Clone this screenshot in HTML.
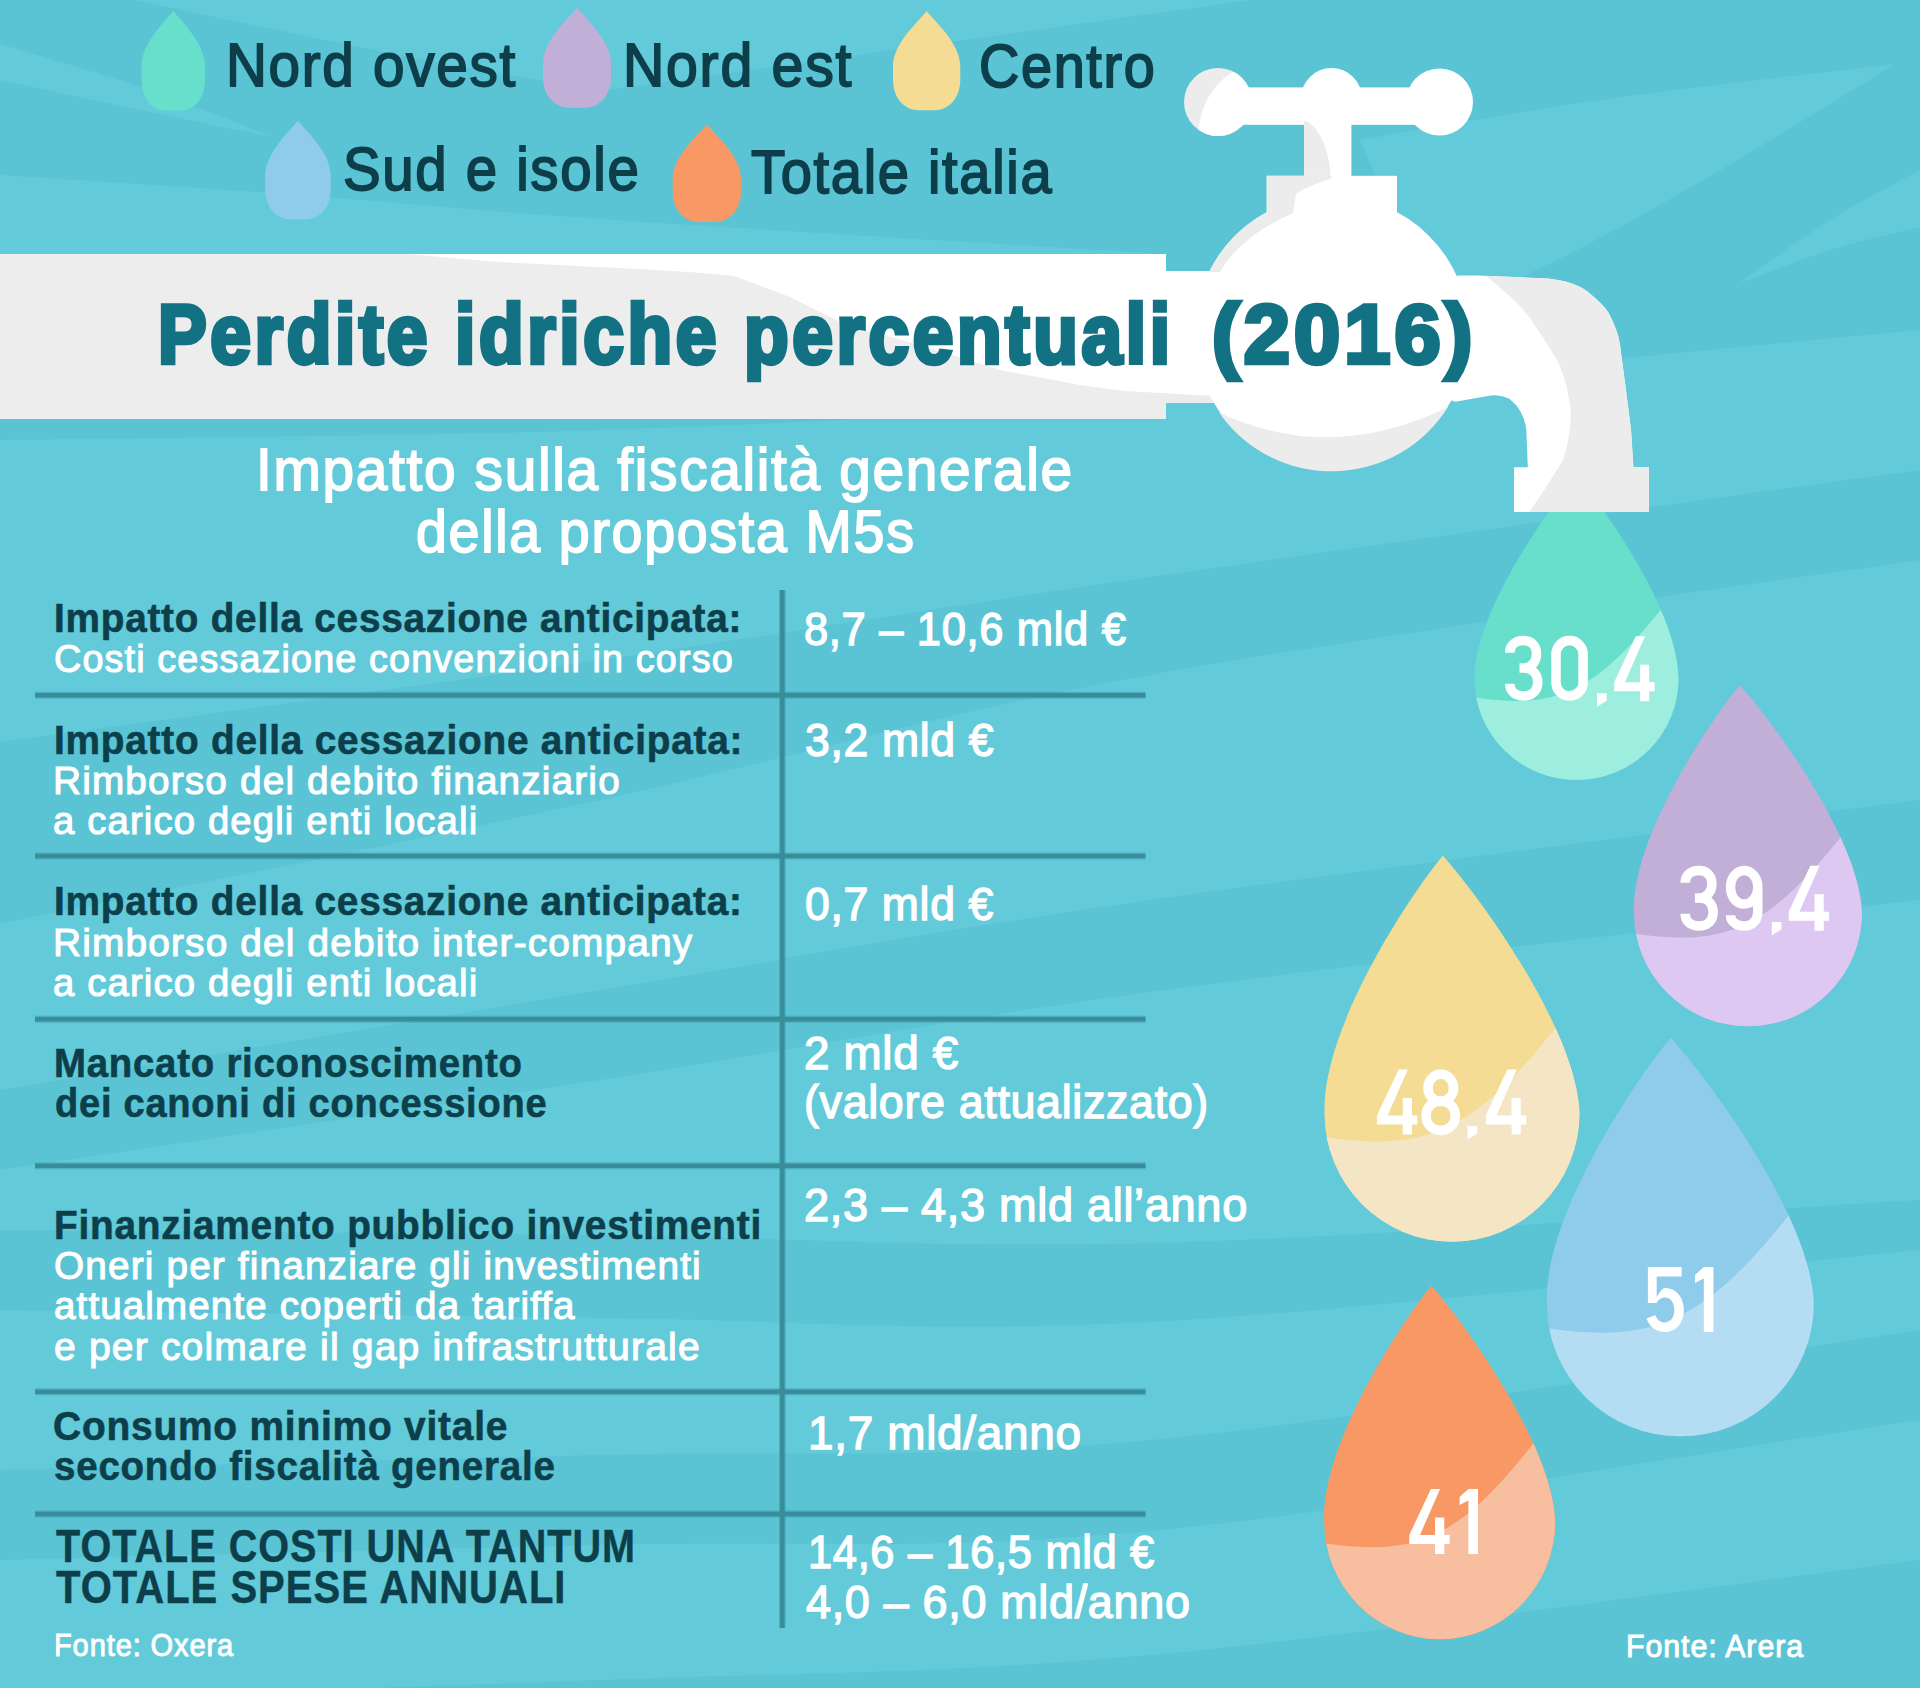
<!DOCTYPE html>
<html><head><meta charset="utf-8"><style>
html,body{margin:0;padding:0}
body{width:1920px;height:1688px;position:relative;overflow:hidden;background:#5ac4d5;font-family:"Liberation Sans",sans-serif}
svg{position:absolute;left:0;top:0}
.t{position:absolute;white-space:nowrap;transform-origin:0 0}
</style></head><body>
<svg width="1920" height="1688" viewBox="0 0 1920 1688">
<defs><clipPath id="dc0"><path d="M1576.48 476 C1598.92 500.93 1678.49 609.76 1678.5 678.67 A102 101.33 0 0 1 1474.5 678.67 C1474.49 609.76 1554.04 500.93 1576.48 476 Z"/></clipPath><clipPath id="dc1"><path d="M1739.79 685.3 C1765.88 713.26 1859.21 835.34 1862 912.63 A114 113.67 0 0 1 1634 912.63 C1631.21 835.34 1715.72 713.26 1739.79 685.3 Z"/></clipPath><clipPath id="dc2"><path d="M1442.82 855.8 C1472 887.45 1576.38 1025.64 1579.5 1113.13 A127.5 128.67 0 0 1 1324.5 1113.13 C1321.38 1025.64 1415.9 887.45 1442.82 855.8 Z"/></clipPath><clipPath id="dc3"><path d="M1670.69 1037.8 C1701.24 1070.48 1810.53 1213.14 1813.8 1303.47 A133.5 132.83 0 0 1 1546.8 1303.47 C1543.53 1213.14 1642.5 1070.48 1670.69 1037.8 Z"/></clipPath><clipPath id="dc4"><path d="M1431.38 1285.8 C1457.82 1314.78 1552.37 1441.3 1555.2 1521.4 A115.5 117.8 0 0 1 1324.2 1521.4 C1321.37 1441.3 1407 1314.78 1431.38 1285.8 Z"/></clipPath></defs>
<path d="M0 440 C100 438.33 408.33 436.67 600 430 C791.67 423.33 930 416.67 1150 400 C1370 383.33 1791.67 341.67 1920 330 L1920 470 C1791.67 487.83 1370 545.33 1150 577 C930 608.67 791.67 632.5 600 660 C408.33 687.5 100 728.33 0 742 Z" fill="#63cad9"/>
<path d="M0 924 C100 903.33 408.33 841.5 600 800 C791.67 758.5 930 715 1150 675 C1370 635 1791.67 579.17 1920 560 L1920 800 C1791.67 816.67 1370 868.33 1150 900 C930 931.67 791.67 958.33 600 990 C408.33 1021.67 100 1073.33 0 1090 Z" fill="#63cad9"/>
<path d="M0 1170 C100 1155 408.33 1109.67 600 1080 C791.67 1050.33 930 1022 1150 992 C1370 962 1791.67 915.33 1920 900 L1920 1200 C1791.67 1207.17 1370 1237.17 1150 1243 C930 1248.83 791.67 1237.17 600 1235 C408.33 1232.83 100 1230.83 0 1230 Z" fill="#63cad9"/>
<path d="M0 1310 C100 1311.33 408.33 1316 600 1318 C791.67 1320 930 1333.33 1150 1322 C1370 1310.67 1791.67 1262 1920 1250 L1920 1330 C1791.67 1348.33 1370 1419.17 1150 1440 C930 1460.83 791.67 1450 600 1455 C408.33 1460 100 1467.5 0 1470 Z" fill="#63cad9"/>
<path d="M0 1560 C100 1557.5 408.33 1549.83 600 1545 C791.67 1540.17 930 1551.83 1150 1531 C1370 1510.17 1791.67 1438.5 1920 1420 L1920 1560 C1791.67 1575.83 1370 1635 1150 1655 C930 1675 791.67 1672.5 600 1680 C408.33 1687.5 100 1696.67 0 1700 Z" fill="#63cad9"/>
<path d="M134 0 C178.33 9.17 322.33 39.83 400 55 C477.67 70.17 566.67 85 600 91 L1250 0 C1208.33 0 1091.67 0 1000 0 C908.33 0 844.33 0 700 0 C555.67 0 228.33 0 134 0 Z" fill="#63cad9"/>
<path d="M0 44 C25 51.67 104.67 74.5 150 90 C195.33 105.5 251.67 129.17 272 137 L272 137 C251.67 132.83 195.33 121.5 150 112 C104.67 102.5 25 85.33 0 80 Z" fill="#63cad9"/>
<path d="M0 175 C50 178.33 200 187.67 300 195 C400 202.33 455.67 209.17 600 219 C744.33 228.83 1071.67 248.17 1166 254 L1166 256 C1071.67 256 794.33 256 600 256 C405.67 256 100 256 0 256 Z" fill="#63cad9"/>
<path d="M1360 140 C1400 133.33 1510.83 112.67 1600 100 C1689.17 87.33 1845.83 70 1895 64 L1895 64 C1862.5 83.67 1759.17 148 1700 182 C1640.83 216 1583.33 248.33 1540 268 C1496.67 287.67 1470 321.33 1440 300 C1410 278.67 1373.33 166.67 1360 140 Z" fill="#63cad9"/>
<path d="M1738 284 C1753.33 273.33 1799.67 239 1830 220 C1860.33 201 1905 178.33 1920 170 L1920 227 C1905 230.83 1860.33 240.5 1830 250 C1799.67 259.5 1753.33 278.33 1738 284 Z" fill="#63cad9"/>
<path d="M173.25 10.6 C179.6 20.12 205 42.35 205 66.47 L205 79.17 C205 100.76 192.3 110.6 180.87 110.6 L165.63 110.6 C154.2 110.6 141.5 100.76 141.5 79.17 L141.5 66.47 C141.5 42.35 166.9 20.12 173.25 10.6 Z" fill="#67dfcb"/>
<path d="M577 7.8 C583.8 17.32 611 39.55 611 63.67 L611 76.37 C611 97.96 597.4 107.8 585.16 107.8 L568.84 107.8 C556.6 107.8 543 97.96 543 76.37 L543 63.67 C543 39.55 570.2 17.32 577 7.8 Z" fill="#c2afd7"/>
<path d="M926.65 10.9 C933.38 20.37 960.3 42.46 960.3 66.44 L960.3 79.06 C960.3 100.52 946.84 110.3 934.73 110.3 L918.57 110.3 C906.46 110.3 893 100.52 893 79.06 L893 66.44 C893 42.46 919.92 20.37 926.65 10.9 Z" fill="#f4dc94"/>
<path d="M298 120.4 C304.56 129.83 330.8 151.83 330.8 175.71 L330.8 188.29 C330.8 209.66 317.68 219.4 305.87 219.4 L290.13 219.4 C278.32 219.4 265.2 209.66 265.2 188.29 L265.2 175.71 C265.2 151.83 291.44 129.83 298 120.4 Z" fill="#8fcbea"/>
<path d="M706.85 124.2 C713.68 133.51 741 155.25 741 178.84 L741 191.26 C741 212.38 727.34 222 715.05 222 L698.65 222 C686.36 222 672.7 212.38 672.7 191.26 L672.7 178.84 C672.7 155.25 700.02 133.51 706.85 124.2 Z" fill="#f89865"/>
<rect x="35" y="691.7" width="1110.5" height="7" fill="#3a8e9b" opacity="0.45"/>
<rect x="35" y="693" width="1110.5" height="4.4" fill="#388d9a"/>
<rect x="35" y="852.5" width="1110.5" height="7" fill="#3a8e9b" opacity="0.45"/>
<rect x="35" y="853.8" width="1110.5" height="4.4" fill="#388d9a"/>
<rect x="35" y="1015.7" width="1110.5" height="7" fill="#3a8e9b" opacity="0.45"/>
<rect x="35" y="1017" width="1110.5" height="4.4" fill="#388d9a"/>
<rect x="35" y="1162.3" width="1110.5" height="7" fill="#3a8e9b" opacity="0.45"/>
<rect x="35" y="1163.6" width="1110.5" height="4.4" fill="#388d9a"/>
<rect x="35" y="1388.3" width="1110.5" height="7" fill="#3a8e9b" opacity="0.45"/>
<rect x="35" y="1389.6" width="1110.5" height="4.4" fill="#388d9a"/>
<rect x="35" y="1510.5" width="1110.5" height="7" fill="#3a8e9b" opacity="0.45"/>
<rect x="35" y="1511.8" width="1110.5" height="4.4" fill="#388d9a"/>
<rect x="779" y="590" width="6.6" height="1038" fill="#3a8e9b" opacity="0.45"/>
<rect x="780.1" y="590" width="4.4" height="1038" fill="#388d9a"/>
<path d="M1576.48 476 C1598.92 500.93 1678.49 609.76 1678.5 678.67 A102 101.33 0 0 1 1474.5 678.67 C1474.49 609.76 1554.04 500.93 1576.48 476 Z" fill="#67dfcb"/>
<path d="M1470.42 696.91 C1558.14 710.08 1595.27 694.47 1670.34 597.6 L1719.3 597.6 L1719.3 820.53 L1433.7 820.53 Z" fill="#9eeee0" clip-path="url(#dc0)"/>
<path d="M1739.79 685.3 C1765.88 713.26 1859.21 835.34 1862 912.63 A114 113.67 0 0 1 1634 912.63 C1631.21 835.34 1715.72 713.26 1739.79 685.3 Z" fill="#c2afd7"/>
<path d="M1629.44 933.09 C1727.48 947.87 1768.98 930.37 1852.88 821.7 L1907.6 821.7 L1907.6 1071.77 L1588.4 1071.77 Z" fill="#dcc8f1" clip-path="url(#dc1)"/>
<path d="M1442.82 855.8 C1472 887.45 1576.38 1025.64 1579.5 1113.13 A127.5 128.67 0 0 1 1324.5 1113.13 C1321.38 1025.64 1415.9 887.45 1442.82 855.8 Z" fill="#f4dc94"/>
<path d="M1319.4 1136.29 C1429.05 1153.02 1475.46 1133.21 1569.3 1010.2 L1630.5 1010.2 L1630.5 1293.27 L1273.5 1293.27 Z" fill="#f4e5c4" clip-path="url(#dc2)"/>
<path d="M1670.69 1037.8 C1701.24 1070.48 1810.53 1213.14 1813.8 1303.47 A133.5 132.83 0 0 1 1546.8 1303.47 C1543.53 1213.14 1642.5 1070.48 1670.69 1037.8 Z" fill="#8fcbea"/>
<path d="M1541.46 1327.38 C1656.27 1344.64 1704.86 1324.19 1803.12 1197.2 L1867.2 1197.2 L1867.2 1489.43 L1493.4 1489.43 Z" fill="#b4dcf2" clip-path="url(#dc3)"/>
<path d="M1431.38 1285.8 C1457.82 1314.78 1552.37 1441.3 1555.2 1521.4 A115.5 117.8 0 0 1 1324.2 1521.4 C1321.37 1441.3 1407 1314.78 1431.38 1285.8 Z" fill="#f89865"/>
<path d="M1319.58 1542.6 C1418.91 1557.92 1460.95 1539.78 1545.96 1427.16 L1601.4 1427.16 L1601.4 1686.32 L1278 1686.32 Z" fill="#f8bea0" clip-path="url(#dc4)"/>
<rect x="0" y="254" width="1166" height="165" fill="#ededed"/>
<rect x="1160" y="271" width="60" height="132" fill="#ececec"/>
<polygon points="407,254 498,262 638,269 696,272.5 734,276 790,297 846,325 902,340 959,357 1000,370 1080,385 1125,391 1215,396 1215,271 1166,271 1166,254" fill="#ffffff"/>
<circle cx="1332" cy="333" r="137.3" fill="#ffffff"/>
<path d="M1219 412.5 A137.3 137.3 0 0 0 1448 407 Q1331 464.5 1219 412.5 Z" fill="#ececec"/>
<circle cx="1218" cy="102" r="34" fill="#ececec"/>
<clipPath id="hc"><circle cx="1218" cy="102" r="34"/></clipPath>
<circle cx="1273" cy="134.5" r="74.5" fill="#ffffff" clip-path="url(#hc)"/>
<circle cx="1331.5" cy="98.5" r="30.5" fill="#ffffff"/>
<circle cx="1439.5" cy="102" r="33.5" fill="#ffffff"/>
<rect x="1218" y="87.4" width="221" height="37.4" fill="#ffffff"/>
<rect x="1304" y="124" width="47.4" height="52" fill="#ffffff"/>
<path d="M1304 121 L1307 121 Q1328 135 1331 178.5 L1304 178.5 Z" fill="#ececec"/>
<rect x="1266.7" y="175.8" width="130.3" height="37.4" fill="#ffffff"/>
<path d="M1266.7 175.8 L1332 175.8 L1331 178.5 Q1305 187 1296 194 L1293 213.5 Q1262 226 1242 245 Q1228 258 1220 272 L1209 272 A137.3 137.3 0 0 1 1264.4 213.5 L1266.7 213.5 Z" fill="#ececec"/>
<path d="M1420 300 L1458 275.5 L1477 275.4 L1548 278.5 Q1575 282 1586.4 290.8 Q1603 304 1608 312 Q1618 330 1620 345 L1625 383 L1631 429.5 L1633.4 467.2 L1648.8 467.2 L1648.8 512 L1514 512 L1514 467.2 L1527.8 467.2 L1526.3 429.5 Q1524 410 1509.3 398.7 Q1500 394 1490.8 395.6 L1455.4 401.8 L1420 390 Z" fill="#ffffff"/>
<clipPath id="sc"><path d="M1420 300 L1458 275.5 L1477 275.4 L1548 278.5 Q1575 282 1586.4 290.8 Q1603 304 1608 312 Q1618 330 1620 345 L1625 383 L1631 429.5 L1633.4 467.2 L1648.8 467.2 L1648.8 512 L1514 512 L1514 467.2 L1527.8 467.2 L1526.3 429.5 Q1524 410 1509.3 398.7 Q1500 394 1490.8 395.6 L1455.4 401.8 L1420 390 Z"/></clipPath>
<path d="M1478.5 270 Q1517 300 1530 318 Q1548 344.7 1558 362 Q1568 383 1571 414 Q1570 440 1563 460 Q1545 490 1529 512 L1700 512 L1700 270 Z" fill="#ececec" clip-path="url(#sc)"/><path transform="translate(1505 635.8)" d="M4.75 17 C4.75 9.5 10.5 4.75 18.5 4.75 C27 4.75 31.5 10.5 31.5 18 C31.5 26 26.5 32.3 18.5 32.3 L14.5 32.3 M18.5 32.3 C27.5 32.3 32.75 38.5 32.75 46.5 C32.75 55 27 60.25 18.5 60.25 C10.5 60.25 4.75 55.5 4.75 48" fill="none" stroke="#fff" stroke-width="9.5"/>
<path transform="translate(1551.25 635.8)" d="M4.75 18.3 A13.55 13.55 0 0 1 31.85 18.3 V46.7 A13.55 13.55 0 0 1 4.75 46.7 Z" fill="none" stroke="#fff" stroke-width="9.5"/>
<path transform="translate(1597 635.8)" d="M0 57.5 H9.7 V65 L0 71 Z" fill="#fff"/>
<path transform="translate(1614.2 636.25)" d="M21.6 0 H30.8 L10.7 45.9 H25.8 V28.4 H35 V45.9 H40.4 V55 H35 V65 H25.8 V55 H0 V46 Z" fill="#fff"/>
<path transform="translate(1680.4 865.8)" d="M4.75 17 C4.75 9.5 10.5 4.75 18.5 4.75 C27 4.75 31.5 10.5 31.5 18 C31.5 26 26.5 32.3 18.5 32.3 L14.5 32.3 M18.5 32.3 C27.5 32.3 32.75 38.5 32.75 46.5 C32.75 55 27 60.25 18.5 60.25 C10.5 60.25 4.75 55.5 4.75 48" fill="none" stroke="#fff" stroke-width="9.5"/>
<path transform="translate(1725.8 865.8)" d="M31.95 21.5 C31.95 12 26 4.75 18.35 4.75 C10.5 4.75 4.75 12 4.75 21.5 C4.75 31 10.5 38.2 18.35 38.2 C26 38.2 31.95 31 31.95 21.5 L31.95 46.5 C31.95 55 26 60.25 18.35 60.25 C10.5 60.25 4.75 56 4.75 49.5" fill="none" stroke="#fff" stroke-width="9.5"/>
<path transform="translate(1771.7 864.5)" d="M0 57.5 H9.7 V65 L0 71 Z" fill="#fff"/>
<path transform="translate(1788.75 865.8)" d="M21.6 0 H30.8 L10.7 45.9 H25.8 V28.4 H35 V45.9 H40.4 V55 H35 V65 H25.8 V55 H0 V46 Z" fill="#fff"/>
<path transform="translate(1377 1069.6)" d="M21.6 0 H30.8 L10.7 45.9 H25.8 V28.4 H35 V45.9 H40.4 V55 H35 V65 H25.8 V55 H0 V46 Z" fill="#fff"/>
<path transform="translate(1421.25 1069.6)" d="M19.5 4.75 C26.5 4.75 32.3 10.5 32.3 18.3 C32.3 26 26.5 31.85 19.5 31.85 C12.5 31.85 6.8 26 6.8 18.3 C6.8 10.5 12.5 4.75 19.5 4.75 Z M19.4 31.45 C27.5 31.45 34.05 37.5 34.05 46.2 C34.05 55 27.5 60.95 19.4 60.95 C11.3 60.95 4.75 55 4.75 46.2 C4.75 37.5 11.3 31.45 19.4 31.45 Z" fill="none" stroke="#fff" stroke-width="9.5"/>
<path transform="translate(1467.5 1068.5)" d="M0 57.5 H9.7 V65 L0 71 Z" fill="#fff"/>
<path transform="translate(1485.8 1069.6)" d="M21.6 0 H30.8 L10.7 45.9 H25.8 V28.4 H35 V45.9 H40.4 V55 H35 V65 H25.8 V55 H0 V46 Z" fill="#fff"/>
<path transform="translate(1646.5 1267)" d="M1.4 0 H35.2 V9.5 H10.2 V30 C12.5 27 15.5 21 18.5 21 C29.5 21 37.3 30 37.3 43 C37.3 57 29 65 18.5 65 C10 65 3 60 0 51.5 L8.8 48 C10.5 53 14 55.5 18.5 55.5 C23.5 55.5 27.8 51 27.8 43 C27.8 35 23.5 30.5 18.5 30.5 C14.5 30.5 11.5 33 9.9 36 L1.4 36 Z" fill="#fff"/>
<path transform="translate(1695 1267)" d="M8.8 0 H18.4 V65 H8.8 V11.5 L0 16 V8 Z" fill="#fff"/>
<path transform="translate(1409.3 1489)" d="M21.6 0 H30.8 L10.7 45.9 H25.8 V28.4 H35 V45.9 H40.4 V55 H35 V65 H25.8 V55 H0 V46 Z" fill="#fff"/>
<path transform="translate(1459.6 1489)" d="M8.8 0 H18.4 V65 H8.8 V11.5 L0 16 V8 Z" fill="#fff"/>
</svg>
<div class="t" style="left:226.32px;top:34.23px;font-size:61.36px;line-height:61.36px;font-weight:normal;color:#0d3e4a;transform:scaleX(0.9230);letter-spacing:1.84px;-webkit-text-stroke:1.84px #0d3e4a">Nord ovest</div>
<div class="t" style="left:622.88px;top:34.43px;font-size:61.36px;line-height:61.36px;font-weight:normal;color:#0d3e4a;transform:scaleX(0.9330);letter-spacing:1.84px;-webkit-text-stroke:1.84px #0d3e4a">Nord est</div>
<div class="t" style="left:978.65px;top:34.73px;font-size:61.36px;line-height:61.36px;font-weight:normal;color:#0d3e4a;transform:scaleX(0.9093);letter-spacing:1.84px;-webkit-text-stroke:1.84px #0d3e4a">Centro</div>
<div class="t" style="left:342.71px;top:138.03px;font-size:61.36px;line-height:61.36px;font-weight:normal;color:#0d3e4a;transform:scaleX(0.9188);letter-spacing:1.84px;-webkit-text-stroke:1.84px #0d3e4a">Sud e isole</div>
<div class="t" style="left:751.44px;top:141.43px;font-size:61.36px;line-height:61.36px;font-weight:normal;color:#0d3e4a;transform:scaleX(0.9134);letter-spacing:1.84px;-webkit-text-stroke:1.84px #0d3e4a">Totale italia</div>
<div class="t" style="left:158.08px;top:292.78px;font-size:83.01px;line-height:83.01px;font-weight:bold;color:#127182;transform:scaleX(0.8798);letter-spacing:4.15px;-webkit-text-stroke:4.57px #127182">Perdite idriche percentuali</div>
<div class="t" style="left:1211.64px;top:292.78px;font-size:83.01px;line-height:83.01px;font-weight:bold;color:#127182;transform:scaleX(0.9988);letter-spacing:4.15px;-webkit-text-stroke:4.57px #127182">(2016)</div>
<div class="t" style="left:255.94px;top:439.6px;font-size:60.06px;line-height:60.06px;font-weight:normal;color:#ffffff;transform:scaleX(0.9450);letter-spacing:1.8px;-webkit-text-stroke:1.8px #ffffff">Impatto sulla fiscalità generale</div>
<div class="t" style="left:415.81px;top:502.1px;font-size:60.06px;line-height:60.06px;font-weight:normal;color:#ffffff;transform:scaleX(0.9256);letter-spacing:1.8px;-webkit-text-stroke:1.8px #ffffff">della proposta M5s</div>
<div class="t" style="left:53.68px;top:597.94px;font-size:41.36px;line-height:41.36px;font-weight:bold;color:#0d3f4b;transform:scaleX(0.9357);letter-spacing:0.83px;-webkit-text-stroke:0.62px #0d3f4b">Impatto della cessazione anticipata:</div>
<div class="t" style="left:54.08px;top:639.42px;font-size:39.17px;line-height:39.17px;font-weight:normal;color:#ffffff;transform:scaleX(0.9643);letter-spacing:1.17px;-webkit-text-stroke:1.1px #ffffff">Costi cessazione convenzioni in corso</div>
<div class="t" style="left:53.67px;top:720.04px;font-size:41.36px;line-height:41.36px;font-weight:bold;color:#0d3f4b;transform:scaleX(0.9371);letter-spacing:0.83px;-webkit-text-stroke:0.62px #0d3f4b">Impatto della cessazione anticipata:</div>
<div class="t" style="left:53.29px;top:761.12px;font-size:39.17px;line-height:39.17px;font-weight:normal;color:#ffffff;transform:scaleX(0.9895);letter-spacing:1.17px;-webkit-text-stroke:1.1px #ffffff">Rimborso del debito finanziario</div>
<div class="t" style="left:53.45px;top:800.72px;font-size:39.17px;line-height:39.17px;font-weight:normal;color:#ffffff;transform:scaleX(0.9772);letter-spacing:1.17px;-webkit-text-stroke:1.1px #ffffff">a carico degli enti locali</div>
<div class="t" style="left:54.08px;top:880.94px;font-size:41.36px;line-height:41.36px;font-weight:bold;color:#0d3f4b;transform:scaleX(0.9365);letter-spacing:0.83px;-webkit-text-stroke:0.62px #0d3f4b">Impatto della cessazione anticipata:</div>
<div class="t" style="left:53.28px;top:923.02px;font-size:39.17px;line-height:39.17px;font-weight:normal;color:#ffffff;transform:scaleX(0.9916);letter-spacing:1.17px;-webkit-text-stroke:1.1px #ffffff">Rimborso del debito inter-company</div>
<div class="t" style="left:53.45px;top:962.92px;font-size:39.17px;line-height:39.17px;font-weight:normal;color:#ffffff;transform:scaleX(0.9772);letter-spacing:1.17px;-webkit-text-stroke:1.1px #ffffff">a carico degli enti locali</div>
<div class="t" style="left:54px;top:1043.04px;font-size:41.36px;line-height:41.36px;font-weight:bold;color:#0d3f4b;transform:scaleX(0.9274);letter-spacing:0.83px;-webkit-text-stroke:0.62px #0d3f4b">Mancato riconoscimento</div>
<div class="t" style="left:54.67px;top:1082.84px;font-size:41.36px;line-height:41.36px;font-weight:bold;color:#0d3f4b;transform:scaleX(0.9192);letter-spacing:0.83px;-webkit-text-stroke:0.62px #0d3f4b">dei canoni di concessione</div>
<div class="t" style="left:53.87px;top:1204.54px;font-size:41.36px;line-height:41.36px;font-weight:bold;color:#0d3f4b;transform:scaleX(0.9376);letter-spacing:0.83px;-webkit-text-stroke:0.62px #0d3f4b">Finanziamento pubblico investimenti</div>
<div class="t" style="left:54.04px;top:1245.92px;font-size:39.17px;line-height:39.17px;font-weight:normal;color:#ffffff;transform:scaleX(0.9893);letter-spacing:1.17px;-webkit-text-stroke:1.1px #ffffff">Oneri per finanziare gli investimenti</div>
<div class="t" style="left:54.24px;top:1285.92px;font-size:39.17px;line-height:39.17px;font-weight:normal;color:#ffffff;transform:scaleX(0.9831);letter-spacing:1.17px;-webkit-text-stroke:1.1px #ffffff">attualmente coperti da tariffa</div>
<div class="t" style="left:54.23px;top:1326.52px;font-size:39.17px;line-height:39.17px;font-weight:normal;color:#ffffff;transform:scaleX(0.9977);letter-spacing:1.17px;-webkit-text-stroke:1.1px #ffffff">e per colmare il gap infrastrutturale</div>
<div class="t" style="left:53.14px;top:1406.44px;font-size:41.36px;line-height:41.36px;font-weight:bold;color:#0d3f4b;transform:scaleX(0.9407);letter-spacing:0.83px;-webkit-text-stroke:0.62px #0d3f4b">Consumo minimo vitale</div>
<div class="t" style="left:53.54px;top:1446.44px;font-size:41.36px;line-height:41.36px;font-weight:bold;color:#0d3f4b;transform:scaleX(0.9311);letter-spacing:0.83px;-webkit-text-stroke:0.62px #0d3f4b">secondo fiscalità generale</div>
<div class="t" style="left:55.8px;top:1522.33px;font-size:47.14px;line-height:47.14px;font-weight:bold;color:#0d3f4b;transform:scaleX(0.8402);letter-spacing:1.18px;-webkit-text-stroke:0.47px #0d3f4b">TOTALE COSTI UNA TANTUM</div>
<div class="t" style="left:55.8px;top:1563.13px;font-size:47.14px;line-height:47.14px;font-weight:bold;color:#0d3f4b;transform:scaleX(0.8488);letter-spacing:1.18px;-webkit-text-stroke:0.47px #0d3f4b">TOTALE SPESE ANNUALI</div>
<div class="t" style="left:54.11px;top:1629.57px;font-size:31.66px;line-height:31.66px;font-weight:normal;color:#ffffff;transform:scaleX(0.9179);letter-spacing:0.95px;-webkit-text-stroke:0.95px #ffffff">Fonte: Oxera</div>
<div class="t" style="left:804.19px;top:605.45px;font-size:47.15px;line-height:47.15px;font-weight:normal;color:#ffffff;transform:scaleX(0.9231);letter-spacing:0.71px;-webkit-text-stroke:1.41px #ffffff">8,7 – 10,6 mld €</div>
<div class="t" style="left:804.61px;top:715.75px;font-size:47.15px;line-height:47.15px;font-weight:normal;color:#ffffff;transform:scaleX(0.9444);letter-spacing:0.71px;-webkit-text-stroke:1.41px #ffffff">3,2 mld €</div>
<div class="t" style="left:804.79px;top:879.65px;font-size:47.15px;line-height:47.15px;font-weight:normal;color:#ffffff;transform:scaleX(0.9435);letter-spacing:0.71px;-webkit-text-stroke:1.41px #ffffff">0,7 mld €</div>
<div class="t" style="left:804.4px;top:1028.95px;font-size:47.15px;line-height:47.15px;font-weight:normal;color:#ffffff;transform:scaleX(0.9709);letter-spacing:0.71px;-webkit-text-stroke:1.41px #ffffff">2 mld €</div>
<div class="t" style="left:803.98px;top:1077.95px;font-size:47.15px;line-height:47.15px;font-weight:normal;color:#ffffff;transform:scaleX(0.9499);letter-spacing:0.71px;-webkit-text-stroke:1.41px #ffffff">(valore attualizzato)</div>
<div class="t" style="left:804.42px;top:1180.75px;font-size:47.15px;line-height:47.15px;font-weight:normal;color:#ffffff;transform:scaleX(0.9572);letter-spacing:0.71px;-webkit-text-stroke:1.41px #ffffff">2,3 – 4,3 mld all’anno</div>
<div class="t" style="left:807.55px;top:1408.55px;font-size:47.15px;line-height:47.15px;font-weight:normal;color:#ffffff;transform:scaleX(0.9735);letter-spacing:0.71px;-webkit-text-stroke:1.41px #ffffff">1,7 mld/anno</div>
<div class="t" style="left:807.69px;top:1528.15px;font-size:47.15px;line-height:47.15px;font-weight:normal;color:#ffffff;transform:scaleX(0.9218);letter-spacing:0.71px;-webkit-text-stroke:1.41px #ffffff">14,6 – 16,5 mld €</div>
<div class="t" style="left:805.55px;top:1578.35px;font-size:47.15px;line-height:47.15px;font-weight:normal;color:#ffffff;transform:scaleX(0.9536);letter-spacing:0.71px;-webkit-text-stroke:1.41px #ffffff">4,0 – 6,0 mld/anno</div>
<div class="t" style="left:1625.53px;top:1630.77px;font-size:31.66px;line-height:31.66px;font-weight:normal;color:#ffffff;transform:scaleX(0.9591);letter-spacing:0.95px;-webkit-text-stroke:0.95px #ffffff">Fonte: Arera</div>
</body></html>
